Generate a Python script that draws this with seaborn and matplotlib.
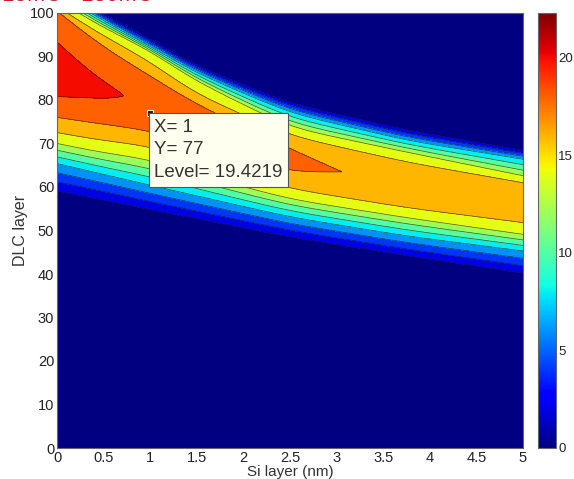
import numpy as np
import matplotlib
matplotlib.use("Agg")
import matplotlib.pyplot as plt
import seaborn as sns
from matplotlib import colors as mcolors
from matplotlib.cm import ScalarMappable

# ---------------- data ----------------
x_knots = [0.0, 0.5, 1.0, 1.43, 2.5, 3.76, 5.0]          # Si layer (nm)
peak_y = [87.0, 82.0, 79.5, 76.5, 66.0, 60.3, 56.5]      # ridge position (DLC layer)
peak_z = [22.3, 20.02, 19.8, 19.4, 18.4, 17.5, 17.3]     # ridge value

# y positions where the field crosses each level, below the ridge (None = not reached)
lower_levels = [2, 8, 14, 16, 18, 20]
lower_y = [
    [59.1, 65.4, 70.0, 72.5, 76.0, 80.8],
    [57.0, 62.9, 67.8, 70.6, 74.4, 80.3],
    [54.8, 60.4, 66.4, 69.5, 73.0, None],
    [53.0, 58.3, 63.3, 66.3, 70.3, None],
    [48.5, 53.1, 57.2, 59.6, 63.4, None],
    [44.2, 48.7, 52.9, 55.2, None, None],
    [40.2, 45.3, 49.1, 51.8, None, None],
]
# ... and above the ridge
upper_levels = [20, 18, 16, 14, 8, 2]
upper_y = [
    [93.3, 100.5, 101.5, 103.0, 105.0, 106.5],
    [83.5, 92.0, 94.6, 96.5, 98.0, 99.5],
    [None, 85.6, 89.0, 91.5, 92.5, 94.2],
    [None, 79.7, 82.0, 85.0, 86.8, 88.4],
    [None, 68.75, 71.8, 73.7, 77.0, 79.2],
    [None, None, 65.7, 68.0, 70.7, 73.0],
    [None, None, 61.0, 62.6, 66.4, 68.4],
]

contour_levels = [0, 2, 4, 6, 8, 10, 12, 14, 16, 18, 20, 24]
z_max = 22.3
x_ticks = [0, 0.5, 1, 1.5, 2, 2.5, 3, 3.5, 4, 4.5, 5]
x_ticklabels = ["0", "0.5", "1", "1.5", "2", "2.5", "3", "3.5", "4", "4.5", "5"]
y_ticks = [0, 10, 20, 30, 40, 50, 60, 70, 80, 90, 100]
cbar_ticks = [0, 5, 10, 15, 20]
tip_x, tip_y, tip_level = 1, 77, 19.4219
title_text = "15MC - 180MC"
x_label = "Si layer (nm)"
y_label = "DLC layer"

# ---------------- build field from the read keypoints ----------------
kp_y, kp_z = [], []
for k in range(len(x_knots)):
    ys_k, zs_k = [], []
    ys_k.append(lower_y[k][0] - 3.0); zs_k.append(0.0)
    for lv, yy in zip(lower_levels, lower_y[k]):
        if yy is None:
            ys_k.append(peak_y[k]); zs_k.append(peak_z[k])
        else:
            ys_k.append(yy); zs_k.append(lv)
    ys_k.append(peak_y[k]); zs_k.append(peak_z[k])
    for lv, yy in zip(upper_levels, upper_y[k]):
        if yy is None:
            ys_k.append(peak_y[k]); zs_k.append(peak_z[k])
        else:
            ys_k.append(yy); zs_k.append(lv)
    ys_k.append(upper_y[k][-1] + 2.0); zs_k.append(0.0)
    kp_y.append(ys_k); kp_z.append(zs_k)
kp_y = np.array(kp_y).T   # (n_kp, n_knots)
kp_z = np.array(kp_z).T

xs = np.linspace(0, 5, 401)
ygrid = np.linspace(0, 100, 801)
sig = 18.0
half = 60
kern = np.exp(-0.5 * (np.arange(-half, half + 1) / sig) ** 2)
kern /= kern.sum()

def smooth(v):
    p = np.pad(v, half, mode="reflect", reflect_type="odd")
    return np.convolve(p, kern, mode="valid")

Yk = np.array([smooth(np.interp(xs, x_knots, row)) for row in kp_y])
Zk = np.array([smooth(np.interp(xs, x_knots, row)) for row in kp_z])
Yk = np.maximum.accumulate(Yk, axis=0)

Z = np.zeros((len(ygrid), len(xs)))
for i in range(len(xs)):
    Z[:, i] = np.interp(ygrid, Yk[:, i], Zk[:, i], left=0.0, right=0.0)
Z = np.clip(Z, 0, z_max)

# ---------------- plot ----------------
sns.set_theme(style="white")
plt.rcParams["font.family"] = ["Liberation Sans", "DejaVu Sans"]

W, H = 574, 479
fig = plt.figure(figsize=(W / 100, H / 100), dpi=100)
fig.patch.set_facecolor("white")
ax = fig.add_axes([57 / W, 31 / H, 466 / W, 435 / H])

jet = plt.get_cmap("jet")
band_colors = [jet(min(l / z_max, 1.0)) for l in contour_levels[:-1]]
ax.contourf(xs, ygrid, Z, levels=contour_levels, colors=band_colors)
ax.contour(xs, ygrid, Z, levels=contour_levels[1:-1], colors="k",
           linewidths=0.5, alpha=0.75)

ax.set_xlim(0, 5)
ax.set_ylim(0, 100)
ax.set_xticks(x_ticks)
ax.set_xticklabels(x_ticklabels)
ax.set_yticks(y_ticks)
ax.tick_params(direction="in", length=4, width=0.6, color="#333333",
               labelsize=10.5, labelcolor="#222222", top=True, right=True, pad=2)
for s in ax.spines.values():
    s.set_color("#666666"); s.set_linewidth(0.8)
ax.set_xlabel(x_label, fontsize=11, color="#333333", labelpad=0.5)
ax.set_ylabel(y_label, fontsize=11.5, color="#333333", labelpad=1)

# data tip
ax.plot([tip_x], [tip_y], marker="s", ms=4.5, mfc="k", mec=(1, 1, 0.94),
        mew=0.8, zorder=6, linestyle="none")
ax.annotate(f"X= {tip_x}\nY= {tip_y}\nLevel= {tip_level}", xy=(tip_x, tip_y),
            xytext=(3, -4), textcoords="offset points", ha="left", va="top",
            fontsize=13.5, color="#333333", linespacing=1.45, zorder=7,
            bbox=dict(boxstyle="square,pad=0.28", fc=(1, 1, 0.94), ec="#555555", lw=0.8))

# colorbar
cax = fig.add_axes([538 / W, 31 / H, 18 / W, 435 / H])
sm = ScalarMappable(norm=mcolors.Normalize(0, z_max), cmap=jet)
cb = fig.colorbar(sm, cax=cax, ticks=cbar_ticks)
cb.outline.set_edgecolor("#666666"); cb.outline.set_linewidth(0.8)
cax.tick_params(direction="in", length=3, width=0.6, color="#333333",
                left=True, right=True, labelsize=9.5, labelcolor="#222222", pad=1.5)

# title (cut off at the top like the reference)
fig.text(0.003, 1 - 1 / H, title_text, va="baseline", ha="left",
         color="#c81e28", fontsize=16)

fig.savefig("out.png", dpi=100)
